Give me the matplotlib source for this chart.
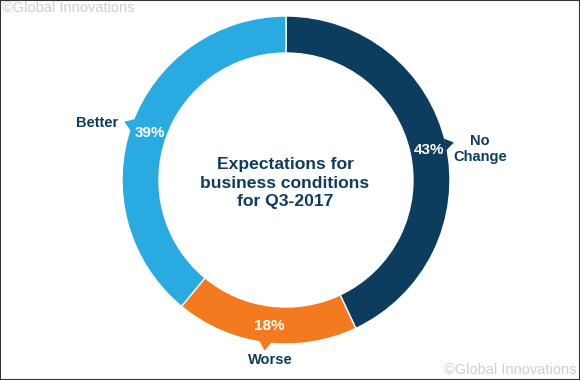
import matplotlib.pyplot as plt
import numpy as np
from matplotlib.patches import Polygon

# data
labels = ['No\nChange', 'Worse', 'Better']
shares = [43, 18, 39]
colors = ['#0c3d5f', '#f47a20', '#29abe2']
title = 'Expectations for\nbusiness conditions\nfor Q3-2017'
watermark = '\u00a9Global Innovations'

W, H = 580, 380
cx, cy = 286, 200
r_out, ring = 164, 37

plt.rcParams['font.family'] = ['Liberation Sans', 'DejaVu Sans']

fig = plt.figure(figsize=(W / 100, H / 100), dpi=100)
ax = fig.add_axes([0, 0, 1, 1])
ax.set_xlim(0, W)
ax.set_ylim(0, H)
ax.set_aspect('equal')
ax.axis('off')

wedges, _ = ax.pie(shares, colors=colors, startangle=90, counterclock=False,
                   center=(cx, cy), radius=r_out,
                   wedgeprops=dict(width=ring, edgecolor='white', linewidth=1))
ax.set_xlim(0, W)
ax.set_ylim(0, H)

# percentages, outer labels and small pointers
r_mid = r_out - ring / 2
label_off = {'No\nChange': (24, -7), 'Worse': (6, -7), 'Better': (-25, -2)}
for w, lab, val, col in zip(wedges, labels, shares, colors):
    mid = np.deg2rad((w.theta1 + w.theta2) / 2)
    ux, uy = np.cos(mid), np.sin(mid)
    ax.text(cx + r_mid * ux + 1, cy + r_mid * uy - 2, f'{val}%', color='white',
            fontsize=11, fontweight='bold', ha='center', va='center')
    # pointer triangle
    px, py = -uy, ux
    base = r_out - 1
    tip = r_out + 8
    tri = [(cx + base * ux + 6 * px, cy + base * uy + 6 * py),
           (cx + base * ux - 6 * px, cy + base * uy - 6 * py),
           (cx + tip * ux, cy + tip * uy)]
    ax.add_patch(Polygon(tri, closed=True, color=col, lw=0))
    ox, oy = label_off[lab]
    ax.text(cx + (tip + 2) * ux + ox, cy + (tip + 2) * uy + oy, lab,
            color='#0c3d5f', fontsize=10.5, fontweight='bold', ha='center',
            va='center', linespacing=1.1)

ax.text(cx - 1, cy - 3, title, color='#0c3d5f', fontsize=12.6, fontweight='bold',
        ha='center', va='center', linespacing=1.3)

# watermarks
ax.text(2, H - 8, watermark, color='#cfcfcf', fontsize=10.5, ha='left', va='center')
ax.text(W - 3, 10, watermark, color='#cfcfcf', fontsize=10.5, ha='right', va='center')

# thin frame
fig.patches.append(plt.Rectangle((0, 0), 1, 1, transform=fig.transFigure,
                                 fill=False, edgecolor='#333333', lw=1.5))

fig.savefig('out.png', dpi=100)
